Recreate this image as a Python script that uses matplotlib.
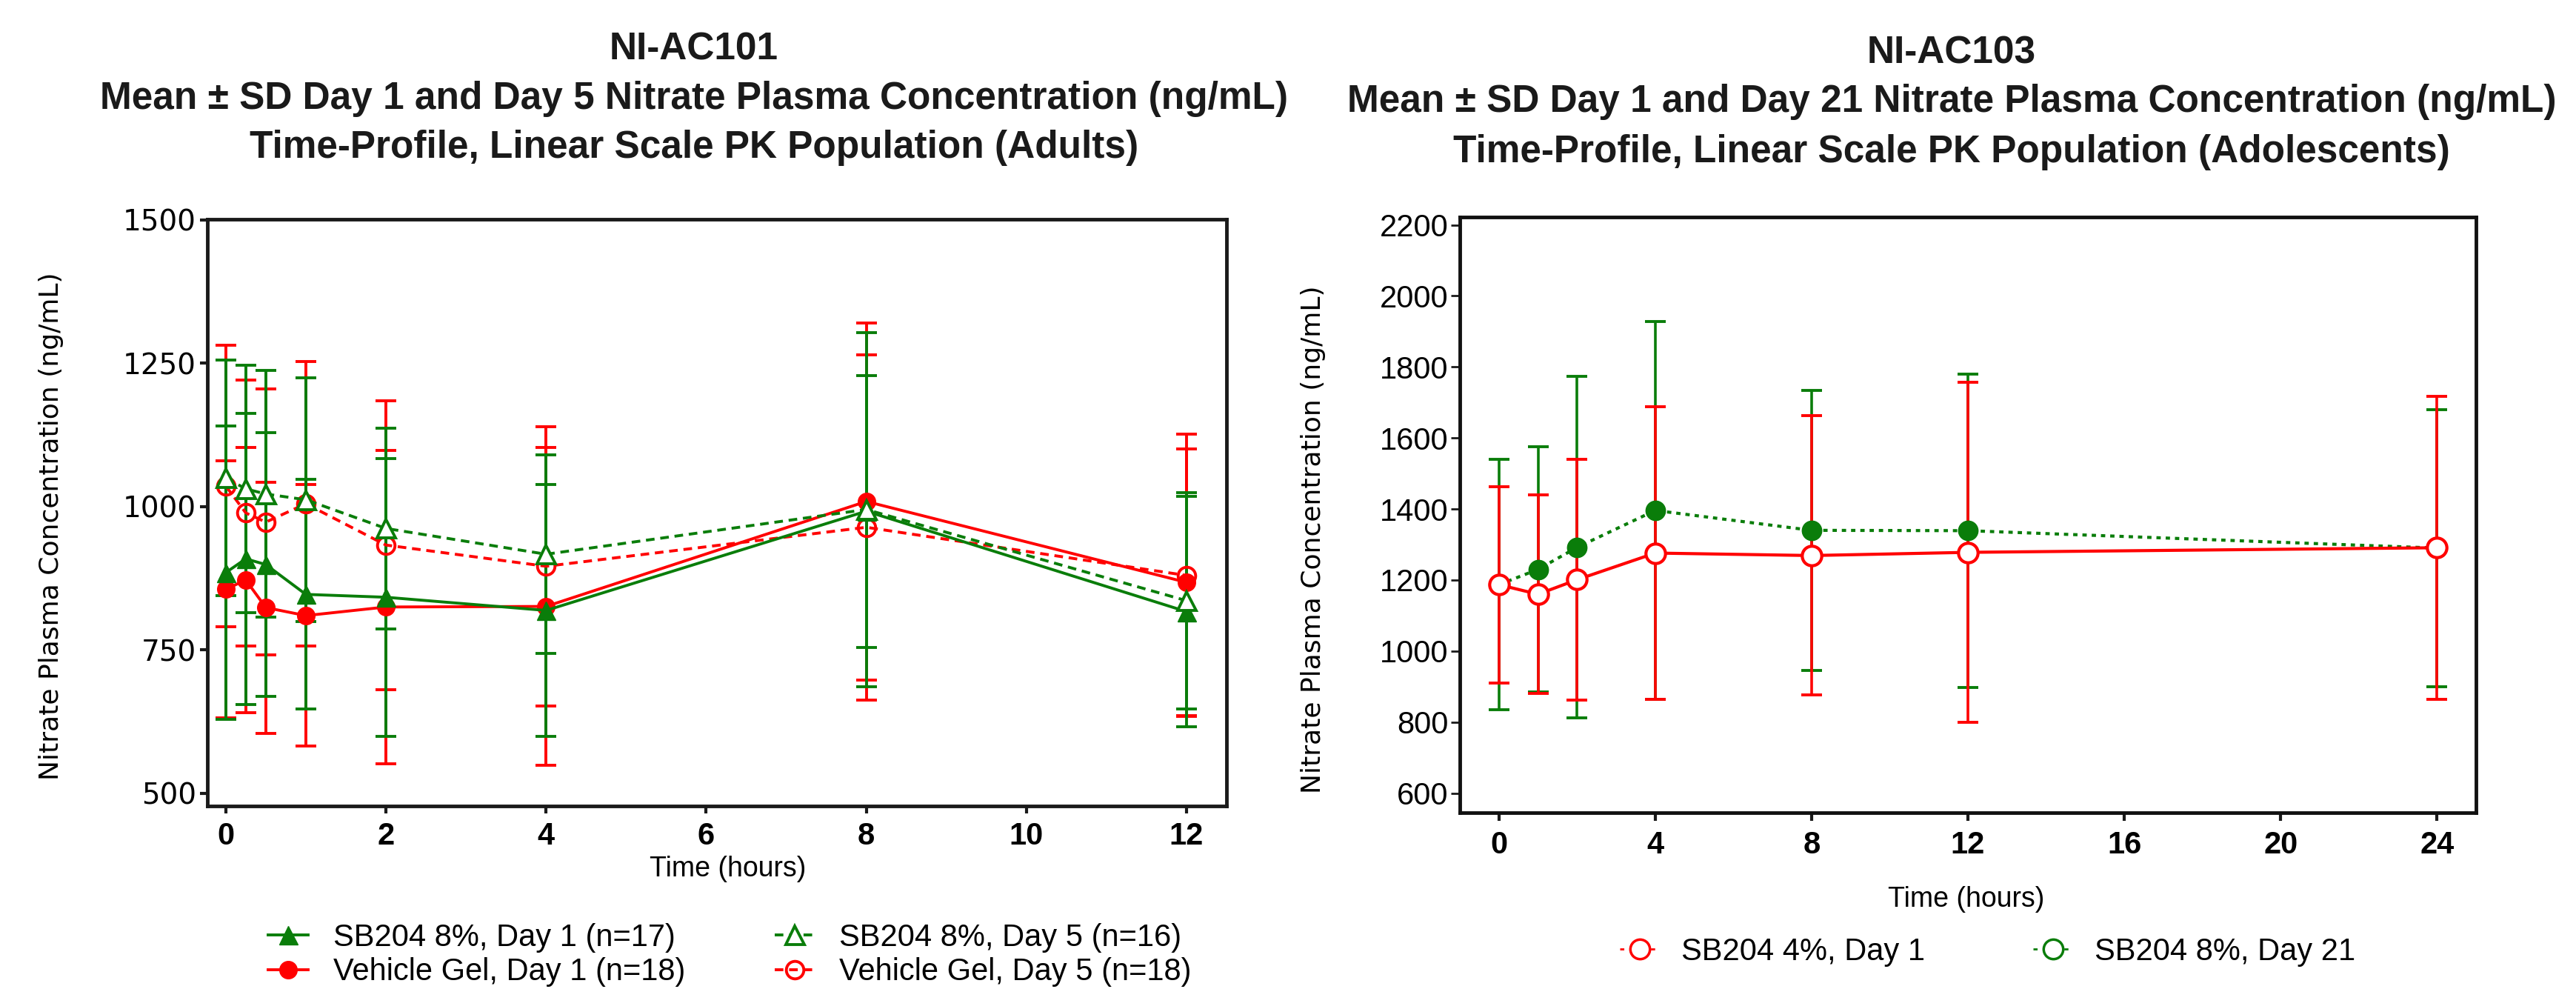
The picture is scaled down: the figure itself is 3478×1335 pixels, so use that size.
import numpy as np
import matplotlib.pyplot as plt
from matplotlib.lines import Line2D

GREEN = '#0a7d0a'
RED = '#ff0000'

# NI-AC101 (adults)
times_101 = [0, 0.25, 0.5, 1, 2, 4, 8, 12]
sb8_d1_mean = [885, 909, 899, 847, 842, 819, 992, 817]
sb8_d1_sd = [256, 254, 230, 200, 242, 219, 237, 201]
sb8_d5_mean = [1050, 1031, 1022, 1012, 962, 917, 995, 836]
sb8_d5_sd = [205, 216, 215, 212, 175, 173, 309, 189]
veh_d1_mean = [856, 872, 824, 810, 825, 826, 1009, 868]
veh_d1_sd = [224, 231, 219, 228, 273, 277, 311, 232]
veh_d5_mean = [1036, 989, 973, 1005, 933, 896, 964, 880]
veh_d5_sd = [246, 232, 232, 248, 252, 243, 301, 246]

# NI-AC103 (adolescents)
times_103 = [0, 1, 2, 4, 8, 12, 24]
sb4_d1_mean = [1187, 1160, 1201, 1276, 1269, 1278, 1291]
sb4_d1_sd = [276, 280, 339, 412, 393, 478, 426]
sb8_d21_mean = [1187, 1230, 1292, 1396, 1340, 1339, 1290]
sb8_d21_sd = [353, 346, 481, 531, 394, 441, 390]

title_101 = ["NI-AC101",
             "Mean \u00b1 SD Day 1 and Day 5 Nitrate Plasma Concentration (ng/mL)",
             "Time-Profile, Linear Scale PK Population (Adults)"]
title_103 = ["NI-AC103",
             "Mean \u00b1 SD Day 1 and Day 21 Nitrate Plasma Concentration (ng/mL)",
             "Time-Profile, Linear Scale PK Population (Adolescents)"]

SANS = 'Liberation Sans'
GEO = 'DejaVu Sans'

fig = plt.figure(figsize=(34.78, 13.35), dpi=100)
W, H = 3478, 1335

ax1 = fig.add_axes([280 / W, 1 - 1088 / H, 1376 / W, 792 / H])
ax2 = fig.add_axes([1971 / W, 1 - 1097 / H, 1372 / W, 804 / H])

# ---- left panel
eb = dict(fmt='none', elinewidth=2.8, capsize=10, capthick=2.8)
ax1.errorbar(times_101, veh_d1_mean, yerr=veh_d1_sd, ecolor=RED, zorder=2, **eb)
ax1.errorbar(times_101, veh_d5_mean, yerr=veh_d5_sd, ecolor=RED, zorder=2, **eb)
ax1.errorbar(times_101, sb8_d1_mean, yerr=sb8_d1_sd, ecolor=GREEN, zorder=3, **eb)
ax1.errorbar(times_101, sb8_d5_mean, yerr=sb8_d5_sd, ecolor=GREEN, zorder=3, **eb)

dash = (0, (3, 2))
l_veh1, = ax1.plot(times_101, veh_d1_mean, color=RED, lw=2.8, marker='o', ms=17,
                   mfc=RED, mec=RED, zorder=4, label='Vehicle Gel, Day 1 (n=18)')
l_veh5, = ax1.plot(times_101, veh_d5_mean, color=RED, lw=2.8, ls=dash, marker='o', ms=17,
                   mfc='none', mec=RED, mew=2.8, zorder=4, label='Vehicle Gel, Day 5 (n=18)')
l_sb1, = ax1.plot(times_101, sb8_d1_mean, color=GREEN, lw=2.8, marker='^', ms=18,
                  mfc=GREEN, mec=GREEN, zorder=5, label='SB204 8%, Day 1 (n=17)')
l_sb5, = ax1.plot(times_101, sb8_d5_mean, color=GREEN, lw=2.8, ls=dash, marker='^', ms=18,
                  mfc='white', mec=GREEN, mew=2.8, zorder=5, label='SB204 8%, Day 5 (n=16)')

ax1.set_xlim(-0.23, 12.5)
ax1.set_ylim(478, 1501)
ax1.set_xticks(range(0, 13, 2))
ax1.set_yticks([500, 750, 1000, 1250, 1500])
ax1.tick_params(axis='both', direction='out', length=7, width=3, color='#1a1a1a')
ax1.tick_params(axis='x', pad=8)
ax1.tick_params(axis='y', pad=4)
for lab in ax1.get_xticklabels():
    lab.set_fontsize(30)
    lab.set_fontweight('bold')
    lab.set_family(SANS)
for lab in ax1.get_yticklabels():
    lab.set_fontsize(28)
    lab.set_family(GEO)
for sp in ax1.spines.values():
    sp.set_linewidth(3.5)
    sp.set_color('#1a1a1a')
ax1.set_ylabel('Nitrate Plasma Concentration (ng/mL)', fontsize=26, family=GEO)
ax1.yaxis.set_label_coords(-0.141, 0.477)
ax1.set_xlabel('Time (hours)', fontsize=27, family=SANS)
ax1.xaxis.set_label_coords(0.511, -0.085)

fig.legend(handles=[l_sb1, l_veh1, l_sb5, l_veh5], ncol=2, frameon=False,
           loc='center left', bbox_to_anchor=(362 / W, 1 - 1289 / H),
           prop={'family': SANS, 'size': 30}, handlelength=1.3, handletextpad=0.8,
           columnspacing=2.9, labelspacing=0.15, borderpad=0, borderaxespad=0)

# ---- right panel
eb2 = dict(fmt='none', elinewidth=2.6, capsize=10, capthick=2.8)
ax2.errorbar(times_103, sb8_d21_mean, yerr=sb8_d21_sd, ecolor=GREEN, zorder=2, **eb2)
ax2.errorbar(times_103, sb4_d1_mean, yerr=sb4_d1_sd, ecolor=RED, zorder=3, **eb2)
ax2.plot(times_103, sb8_d21_mean, color=GREEN, lw=3, ls=(0, (1.4, 1.6)), marker='o', ms=19,
         mfc=GREEN, mec=GREEN, zorder=4)
ax2.plot(times_103, sb4_d1_mean, color=RED, lw=3, marker='o', ms=19,
         mfc='white', mec=RED, mew=3, zorder=5)

ax2.set_xlim(-1, 25)
ax2.set_ylim(545, 2222)
ax2.set_xticks(range(0, 25, 4))
ax2.set_yticks(range(600, 2201, 200))
ax2.tick_params(axis='x', direction='out', length=8, width=3, pad=9, color='#1a1a1a')
ax2.tick_params(axis='y', direction='out', length=9, width=2, pad=2, color='#1a1a1a')
for lab in ax2.get_xticklabels():
    lab.set_fontsize(30)
    lab.set_fontweight('bold')
    lab.set_family(SANS)
for lab in ax2.get_yticklabels():
    lab.set_fontsize(30)
    lab.set_family(SANS)
for sp in ax2.spines.values():
    sp.set_linewidth(3.5)
    sp.set_color('#111111')
ax2.set_ylabel('Nitrate Plasma Concentration (ng/mL)', fontsize=26, family=GEO)
ax2.yaxis.set_label_coords(-0.132, 0.459)
ax2.set_xlabel('Time (hours)', fontsize=27, family=SANS)
ax2.xaxis.set_label_coords(0.4985, -0.123)

h_red = Line2D([], [], color=RED, lw=2, ls=(0, (2, 3)), marker='o', ms=19, mfc='white', mec=RED, mew=2.5)
h_grn = Line2D([], [], color=GREEN, lw=2, ls=(0, (2, 3)), marker='o', ms=19, mfc='white', mec=GREEN, mew=2.5)
fig.legend(handles=[h_red, h_grn], labels=['SB204 4%, Day 1', 'SB204 8%, Day 21'], ncol=2,
           frameon=False, loc='center left', bbox_to_anchor=(2187 / W, 1 - 1285 / H),
           prop={'family': SANS, 'size': 30}, handlelength=1.3, handletextpad=0.7,
           columnspacing=3.5, borderpad=0, borderaxespad=0)

# ---- titles
for lines, xc, ys in [(title_101, 937, [67, 133, 200]), (title_103, 2635, [72, 138, 205])]:
    for txt, y in zip(lines, ys):
        fig.text(xc / W, 1 - y / H, txt, ha='center', va='center', fontsize=37,
                 fontweight='bold', family=SANS, color='#1a1a1a')

fig.savefig('out.png', dpi=100, facecolor='white')
